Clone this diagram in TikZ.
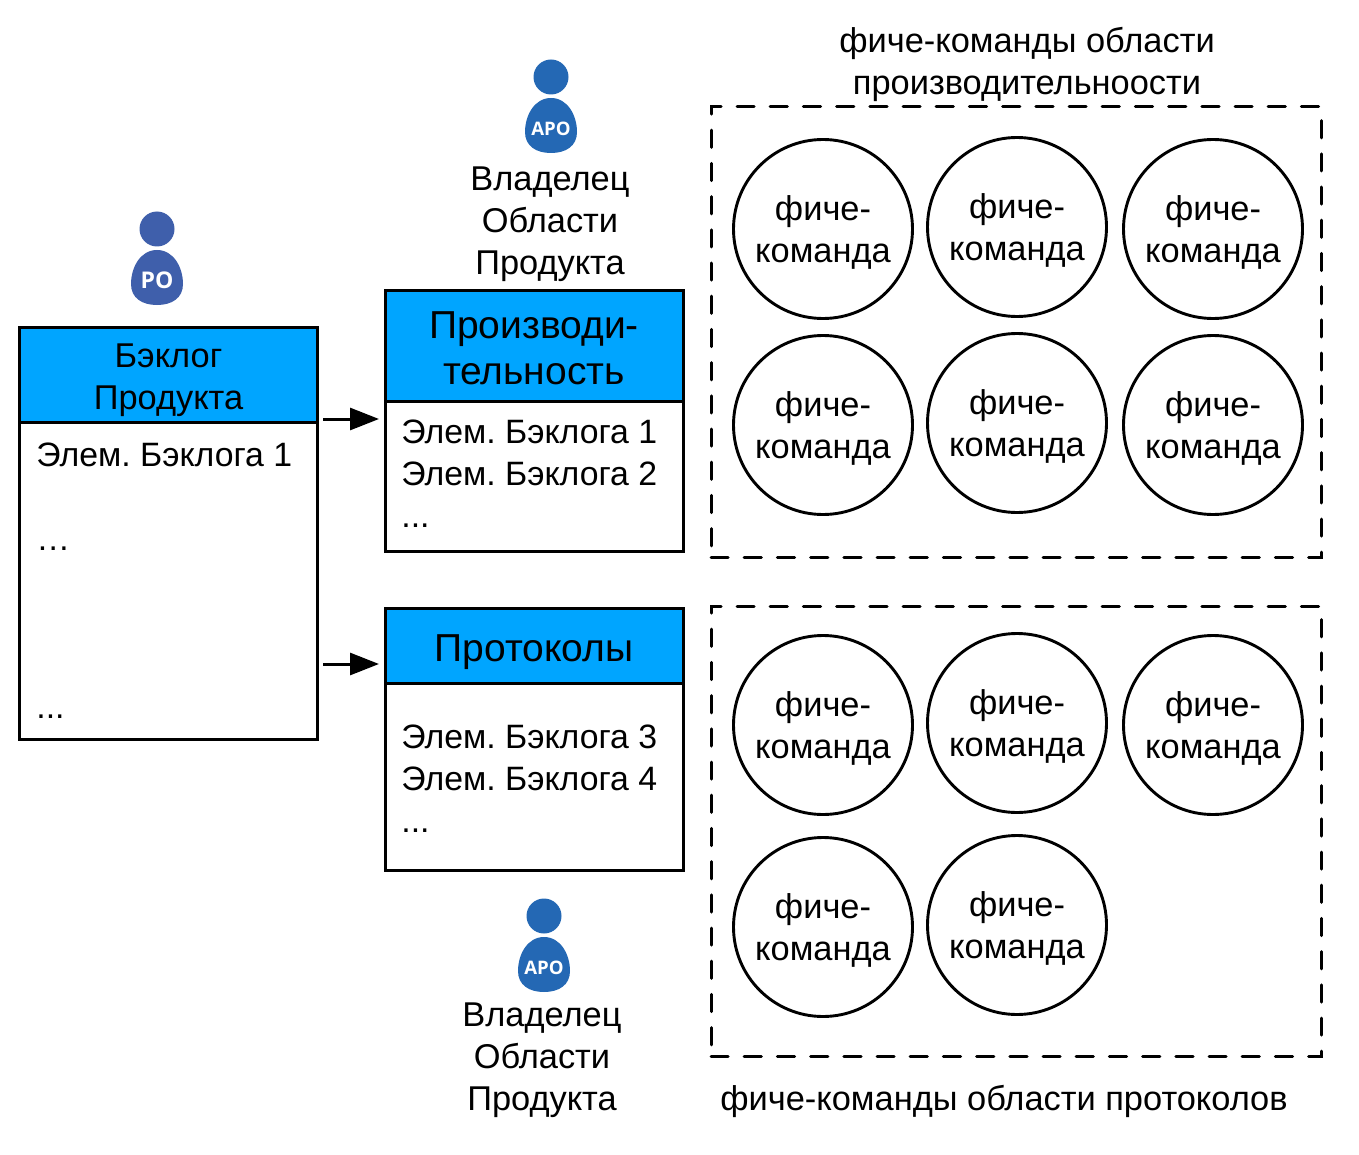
\documentclass[tikz,border=0pt]{standalone}
\usepackage{fontspec}
\setmainfont{Liberation Sans}
\newfontfamily\badgefont{Open Sans}
\usetikzlibrary{arrows.meta}
\frenchspacing
\definecolor{headblue}{HTML}{00A5FF}
\definecolor{poblue}{HTML}{3F5FAB}
\definecolor{apoblue}{HTML}{2468B4}
\tikzset{
	txt/.style = {inner sep = 0pt, align = center, font = \fontsize{17.2}{21}\selectfont},
	items/.style = {inner sep = 0pt, align = left, anchor = north west, font = \fontsize{16.9}{21}\selectfont},
	boxbody/.style = {draw, line width = 1.5pt, rectangle, inner sep = 0pt, minimum width = 148.8pt},
	boxhead/.style = {boxbody, fill = headblue},
	headtxt/.style = {inner sep = 0pt, align = center, font = \fontsize{19.5}{23}\selectfont},
	team/.style = {draw, line width = 1.45pt, circle, minimum size = 89.5pt, inner sep = 0pt},
	area/.style = {draw, line width = 1.5pt, line cap = round, dash pattern = on 8.6pt off 8pt, rectangle, inner sep = 0pt},
	flow/.style = {line width = 1.5pt, -{Triangle[length = 14.5pt, width = 11pt]}},
	person/.pic = {
		\fill[pic actions] (0,-17) circle (17.5);
		\fill[pic actions] (0,4) .. controls (-17,4) and (-26,22) .. (-26,38) .. controls (-26,52) and (-15,59) .. (0,59) .. controls (15,59) and (26,52) .. (26,38) .. controls (26,22) and (17,4) .. (0,4) -- cycle;
		\node[white, inner sep = 0pt, font = \badgefont\bfseries\tikzpictextoptions] (-badge) at (0,34.5) {\tikzpictext};
	}
}
\begin{document}
\begin{tikzpicture}[x = 0.5pt, y = -0.5pt]
	\useasboundingbox (0,0) rectangle (1359,1155);

	% backlog
	\node[boxbody, minimum height = 206pt] (backlog) at (168.5,533) {};
	\node[boxhead, minimum height = 47.5pt] (backloghead) at (168.5,374.5) {};
	\node[txt] (backlogtxt) at (168.5,380) {Бэклог\\Продукта};
	\node[items] (backlogitems) at (36,442) {Элем. Бэклога 1\\~\\…\\~\\~\\~\\...};
	\coordinate (backlogout1) at (323,419);
	\coordinate (backlogout2) at (323,664);

	% performance area
	\node[boxbody, minimum height = 130.5pt] (perf) at (534.5,420.5) {};
	\node[boxhead, minimum height = 55.5pt] (perfhead) at (534.5,345.5) {};
	\node[headtxt] (perftxt) at (534,348) {Производи-\\тельность};
	\node[items] (perfitems) at (401,419.5) {Элем. Бэклога 1\\Элем. Бэклога 2\\...};
	\coordinate (perfin) at (379,419);

	% protocols area
	\node[boxbody, minimum height = 131pt] (proto) at (534.5,739) {};
	\node[boxhead, minimum height = 37.5pt] (protohead) at (534.5,645.5) {};
	\node[headtxt] (prototxt) at (534,652) {Протоколы};
	\node[items] (protoitems) at (401,724) {Элем. Бэклога 3\\Элем. Бэклога 4\\...};
	\coordinate (protoin) at (379,664);

	\draw[flow] (backlogout1) -- (perfin);
	\draw[flow] (backlogout2) -- (protoin);

	% owners
	\pic[poblue, pic text = PO, pic text options = {\fontsize{11.5}{13}\selectfont}] (po) at (157,246) {person};
	\pic[apoblue, pic text = APO, pic text options = {\fontsize{9.3}{11}\selectfont}] (apoa) at (551,94) {person};
	\pic[apoblue, pic text = APO, pic text options = {\fontsize{9.3}{11}\selectfont}] (apob) at (544,933) {person};
	\node[txt] (apoatxt) at (550,224) {Владелец\\Области\\Продукта};
	\node[txt] (apobtxt) at (542,1060) {Владелец\\Области\\Продукта};

	% dashed groups
	\node[area, minimum width = 305pt, minimum height = 225pt] (perfarea) at (1016,332) {};
	\node[area, minimum width = 305pt, minimum height = 225pt] (protoarea) at (1016,831) {};
	\node[txt] (perfareatxt) at (1027,64) {фиче-команды области\\производительноости};
	\node[txt] (protoareatxt) at (1004,1101.5) {фиче-команды области протоколов};

	% teams
	\foreach \name/\xx/\yy in {a/823/229, b/1017/227, c/1213/229, d/823/425, e/1017/423, f/1213/425, g/823/725, h/1017/723, i/1213/725, j/823/927, k/1017/925}
		\node[team, label = {[txt, yshift = -1.9pt]center:фиче-\\команда}] (team\name) at (\xx,\yy) {};
\end{tikzpicture}
\end{document}
